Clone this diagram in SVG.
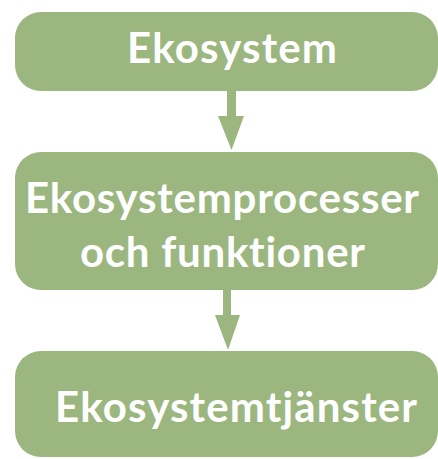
<svg xmlns="http://www.w3.org/2000/svg" width="438" height="459" viewBox="0 0 438 459">
<style>
.box{fill:#9bb77f;}
.lbl{font-family:Lato,"Open Sans","Liberation Sans",sans-serif;font-weight:bold;font-size:42px;fill:#ffffff;font-variant-ligatures:none;}
.arr{fill:#9bb77f;}
</style>
<rect width="438" height="459" fill="#ffffff"/>
<g id="connectors">
<polygon class="arr" points="227,91 236,91 236,116 244,116 231.5,150 218,116 227,116"/>
<polygon class="arr" points="223,290 231,290 231,315 240,315 228,350 215,315 223,315"/>
</g>
<g id="node-ekosystem">
<rect class="box" x="15" y="12" width="423" height="79" rx="26"/>
<text class="lbl" x="127" y="63" textLength="210">Ekosystem</text>
</g>
<g id="node-processer">
<rect class="box" x="15" y="152" width="423" height="138" rx="26"/>
<text class="lbl" x="25" y="213" textLength="394">Ekosystemprocesser</text>
<text class="lbl" x="80" y="267" textLength="285">och funktioner</text>
</g>
<g id="node-tjanster">
<rect class="box" x="15" y="351" width="423" height="106" rx="26"/>
<text class="lbl" x="55" y="422" textLength="362">Ekosystemtjänster</text>
</g>
</svg>
